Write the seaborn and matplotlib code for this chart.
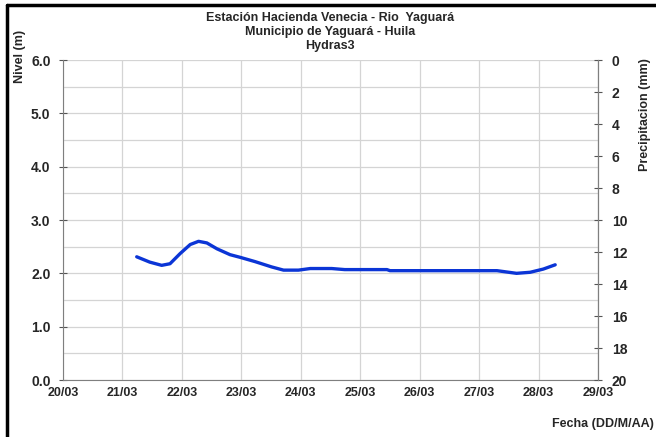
import matplotlib
matplotlib.use("Agg")
import matplotlib.pyplot as plt
import seaborn as sns
import pandas as pd
from matplotlib.lines import Line2D

# nivel (day offset from 20/03, metres)
dias = [1.24, 1.46, 1.66, 1.80, 1.97, 2.14, 2.28, 2.42, 2.59, 2.81, 2.98,
        3.23, 3.51, 3.71, 3.96, 4.16, 4.52, 4.74, 5.45, 5.50, 7.02, 7.30,
        7.63, 7.86, 8.08, 8.28]
nivel = [2.31, 2.21, 2.15, 2.18, 2.37, 2.54, 2.60, 2.57, 2.46, 2.35, 2.30,
         2.22, 2.12, 2.06, 2.06, 2.09, 2.09, 2.07, 2.07, 2.05, 2.05, 2.05,
         2.00, 2.02, 2.08, 2.16]
fechas = ["20/03", "21/03", "22/03", "23/03", "24/03", "25/03", "26/03",
          "27/03", "28/03", "29/03"]
titulo = ["Estación Hacienda Venecia - Rio  Yaguará",
          "Municipio de Yaguará - Huila", "Hydras3"]

sns.set_style("white")
plt.rcParams["font.family"] = ["Liberation Sans", "DejaVu Sans"]
plt.rcParams["font.weight"] = "bold"

df = pd.DataFrame({"dia": dias, "nivel": nivel})

fig = plt.figure(figsize=(6.56, 4.37), dpi=100)
ax = fig.add_axes([63 / 656, 1 - 380 / 437, (598 - 63) / 656, 320 / 437])
sns.lineplot(data=df, x="dia", y="nivel", ax=ax, color="#0b35d6", lw=2.4)
ax.lines[0].set_solid_joinstyle("round")

ax.set_xlim(0, 9)
ax.set_ylim(0, 6)
ax.set_xticks(range(len(fechas)))
ax.set_xticklabels(fechas, fontsize=9, fontweight="bold")
ax.set_yticks([0, 1, 2, 3, 4, 5, 6])
ax.set_yticklabels([f"{v:.1f}" for v in range(7)], fontsize=10,
                   fontweight="bold")
ax.set_yticks([0.5, 1.5, 2.5, 3.5, 4.5, 5.5], minor=True)
ax.grid(True, which="both", color="#d4d4d4", lw=0.9)
ax.tick_params(axis="both", which="major", direction="inout", length=6,
               color="#555555", pad=2)
ax.tick_params(axis="y", which="major", pad=6)
ax.tick_params(axis="y", which="minor", length=0)
ax.set_xlabel("")
ax.set_ylabel("")
ax.spines["top"].set_visible(False)
for s in ["left", "bottom", "right"]:
    ax.spines[s].set_color("#7f7f7f")

ax2 = ax.twinx()
ax2.set_ylim(20, 0)
ax2.set_yticks(range(0, 21, 2))
ax2.set_yticklabels([str(v) for v in range(0, 21, 2)], fontsize=10,
                    fontweight="bold")
ax2.tick_params(axis="y", direction="inout", length=6, color="#555555", pad=7)
ax2.spines["top"].set_visible(False)
ax2.spines["right"].set_color("#7f7f7f")
for s in ["left", "bottom"]:
    ax2.spines[s].set_visible(False)

for i, t in enumerate(titulo):
    fig.text(0.503, 1 - (18 + 14 * i) / 437, t, ha="center", va="center",
             fontsize=9, fontweight="bold")
fig.text(20 / 656, 1 - 30 / 437, "Nivel (m)", rotation=90, ha="center",
         va="top", fontsize=9, fontweight="bold")
fig.text(645 / 656, 1 - 58 / 437, "Precipitacion (mm)", rotation=90,
         ha="center", va="top", fontsize=9, fontweight="bold")
fig.text(1 - 2 / 656, 1 - 424 / 437, "Fecha (DD/M/AA)", ha="right",
         va="center", fontsize=9, fontweight="bold")

# black frame around the chart (left and top edges visible)
fig.add_artist(Line2D([6.5 / 656, 6.5 / 656], [0, 1 - 5 / 437],
                      transform=fig.transFigure, color="black", lw=2.5))
fig.add_artist(Line2D([6.5 / 656, 1], [1 - 5 / 437, 1 - 5 / 437],
                      transform=fig.transFigure, color="black", lw=2.5))

fig.savefig("out.png", dpi=100)
